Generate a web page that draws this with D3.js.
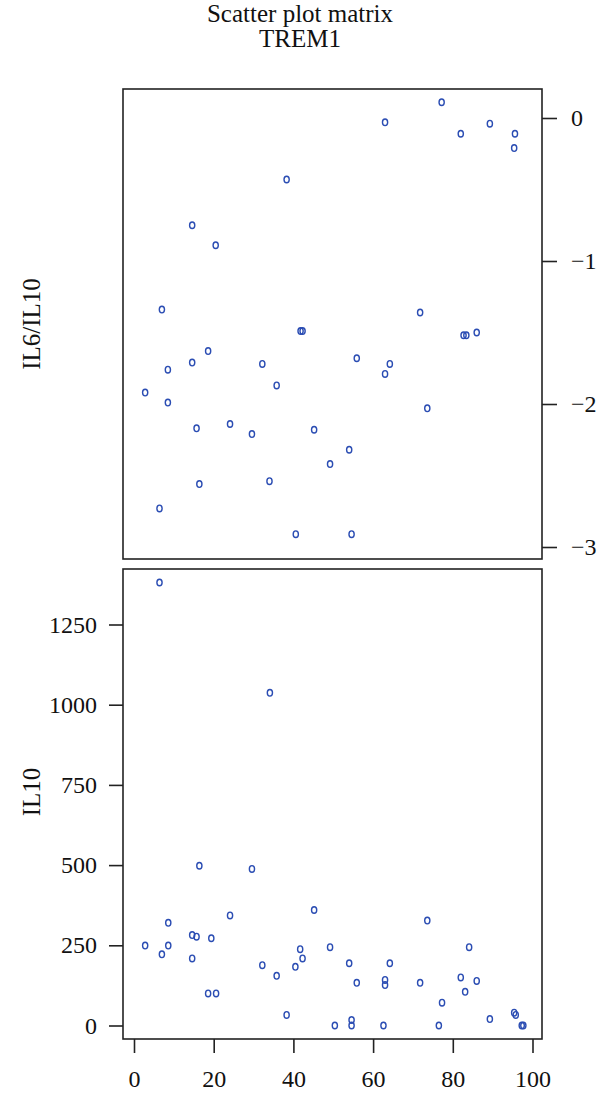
<!DOCTYPE html>
<html>
<head>
<meta charset="utf-8">
<script src="https://cdn.jsdelivr.net/npm/d3@7"></script>
<style>
  body { margin: 0; background: #fff; }
  svg text { font-family: "Liberation Serif", "DejaVu Serif", serif; fill: #111; }
</style>
</head>
<body>
<svg id="chart" width="600" height="1095"></svg>
<script>
// TREM1 values (x) shared by both panels
const titleLines = ["Scatter plot matrix", "TREM1"];

// top panel: IL6/IL10 (log ratio), zero IL10 rows missing
const ratioTrem1 = [38.3, 14.6, 20.5, 7.0, 77.2, 63.0, 89.3, 82.0, 95.6, 95.4,
  41.8, 42.3, 55.9, 18.6, 14.6, 8.5, 32.2, 35.8, 2.8, 8.5,
  15.7, 24.1, 29.6, 45.2, 54.0, 49.2, 16.4, 34.0, 6.4, 40.6,
  54.6, 71.8, 82.7, 83.4, 86.0, 64.2, 63.0, 73.6];
const ratioValues = [-0.43, -0.75, -0.89, -1.34, 0.11, -0.03, -0.04, -0.11, -0.11, -0.21,
  -1.49, -1.49, -1.68, -1.63, -1.71, -1.76, -1.72, -1.87, -1.92, -1.99,
  -2.17, -2.14, -2.21, -2.18, -2.32, -2.42, -2.56, -2.54, -2.73, -2.91,
  -2.91, -1.36, -1.52, -1.52, -1.50, -1.72, -1.79, -2.03];

// bottom panel: IL10
const il10Trem1 = [6.4, 34.1, 16.4, 29.6, 24.1, 45.2, 8.6, 2.8, 8.6, 7.0,
  14.6, 15.7, 19.4, 14.6, 41.7, 42.3, 49.2, 32.2, 35.8, 40.5,
  54.0, 55.9, 18.6, 20.6, 38.3, 50.4, 54.6, 54.6, 73.6, 84.1,
  64.2, 63.0, 63.0, 71.8, 82.0, 86.0, 83.1, 77.3, 62.6, 76.5,
  89.3, 95.4, 95.8, 97.3, 97.7];
const il10Values = [1381, 1037, 498, 488, 343, 360, 320, 249, 249, 222,
  282, 277, 272, 209, 238, 209, 244, 188, 155, 183,
  194, 133, 100, 100, 33, 0, 17, 0, 327, 244,
  194, 142, 126, 133, 150, 139, 105, 71, 0, 0,
  20, 40, 33, 0, 0];

const xTicks = [0, 20, 40, 60, 80, 100];
const ratioTicks = [0, -1, -2, -3];
const il10Ticks = [0, 250, 500, 750, 1000, 1250];

const svg = d3.select("#chart");
const ptColor = "#2b4db3";
const lineColor = "#222";
const fmt = d3.format("d");

const left = 123, right = 542;
const topPanel = { y0: 89, y1: 559 };
const botPanel = { y0: 569, y1: 1039 };

const x = d3.scaleLinear().domain([0, 100]).range([134, 532.5]);
const yRatio = d3.scaleLinear().domain([-3, 0]).range([547, 118]);
const yIl10 = d3.scaleLinear().domain([0, 1250]).range([1025.5, 624.5]);

// title
svg.selectAll("text.title")
  .data(titleLines)
  .enter().append("text")
  .attr("class", "title")
  .attr("x", 300)
  .attr("y", (d, i) => 22 + i * 25)
  .attr("text-anchor", "middle")
  .style("font-size", "25px")
  .text(d => d);

// panel frames
[topPanel, botPanel].forEach(p => {
  svg.append("rect")
    .attr("x", left).attr("y", p.y0)
    .attr("width", right - left).attr("height", p.y1 - p.y0)
    .attr("fill", "none")
    .attr("stroke", lineColor)
    .attr("stroke-width", 1.6);
});

function styleAxis(g) {
  g.select(".domain").remove();
  g.selectAll(".tick line").attr("stroke", lineColor).attr("stroke-width", 1.6);
  g.selectAll(".tick text").style("font-size", "24px").attr("fill", "#111");
}

// right axis of top panel
svg.append("g")
  .attr("transform", `translate(${right},0)`)
  .call(d3.axisRight(yRatio).tickValues(ratioTicks).tickFormat(fmt).tickSize(15).tickPadding(14))
  .call(styleAxis);

// left axis of bottom panel
svg.append("g")
  .attr("transform", `translate(${left},0)`)
  .call(d3.axisLeft(yIl10).tickValues(il10Ticks).tickFormat(fmt).tickSize(14).tickPadding(12))
  .call(styleAxis);

// bottom x axis
svg.append("g")
  .attr("transform", `translate(0,${botPanel.y1})`)
  .call(d3.axisBottom(x).tickValues(xTicks).tickFormat(fmt).tickSize(14).tickPadding(17))
  .call(styleAxis);

// axis titles
svg.append("text")
  .attr("transform", `translate(40,${(topPanel.y0 + topPanel.y1) / 2}) rotate(-90)`)
  .attr("text-anchor", "middle")
  .style("font-size", "25px")
  .text("IL6/IL10");

svg.append("text")
  .attr("transform", `translate(40,${(botPanel.y0 + botPanel.y1) / 2 - 12}) rotate(-90)`)
  .attr("text-anchor", "middle")
  .style("font-size", "25px")
  .text("IL10");

// points
function drawPoints(xs, ys, yScale) {
  svg.append("g")
    .selectAll("ellipse")
    .data(xs.map((v, i) => [v, ys[i]]))
    .enter().append("ellipse")
    .attr("cx", d => x(d[0]))
    .attr("cy", d => yScale(d[1]))
    .attr("rx", 2.6)
    .attr("ry", 3.3)
    .attr("fill", "none")
    .attr("stroke", ptColor)
    .attr("stroke-width", 1.4);
}

drawPoints(ratioTrem1, ratioValues, yRatio);
drawPoints(il10Trem1, il10Values, yIl10);
</script>
</body>
</html>
